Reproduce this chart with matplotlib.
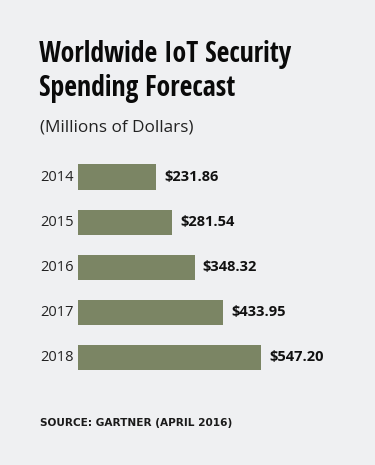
import matplotlib
matplotlib.use("Agg")
import matplotlib.pyplot as plt
from matplotlib import font_manager as fm
from matplotlib.transforms import blended_transform_factory

years = ["2014", "2015", "2016", "2017", "2018"]
spending = [231.86, 281.54, 348.32, 433.95, 547.20]
value_labels = ["$231.86", "$281.54", "$348.32", "$433.95", "$547.20"]
title = "Worldwide IoT Security\nSpending Forecast"
subtitle = "(Millions of Dollars)"
source = "SOURCE: GARTNER (APRIL 2016)"

W, H = 375, 465
BG = "#eff0f2"
BAR = "#7b8564"

names = {f.name for f in fm.fontManager.ttflist}
cond = None
for cand in ["Liberation Sans Narrow", "DejaVu Sans Condensed", "Open Sans Condensed", "Roboto Condensed"]:
    if cand in names:
        cond = cand
        break

fig = plt.figure(figsize=(W / 100, H / 100), dpi=100, facecolor=BG)

def fx(px):
    return px / W

def fy(py):
    return 1 - py / H

# axes: x from 78 px to 340 px, y from 154.5 to 380 px
ax = fig.add_axes([fx(78), fy(380), fx(340 - 78), (380 - 154.5) / H])
ax.set_facecolor(BG)
ypos = list(range(len(years)))
ax.barh(ypos, spending, height=0.56, color=BAR, edgecolor="none")
ax.set_xlim(0, (340 - 78) / 0.3345)
ax.set_ylim(len(years) - 0.5, -0.5)
ax.axis("off")

for i, (v, lab) in enumerate(zip(spending, value_labels)):
    ax.annotate(lab, (v, i), xytext=(6, 0), textcoords="offset points",
                ha="left", va="center", fontsize=10.5, fontweight="bold",
                color="#111111", family=["Open Sans", "DejaVu Sans"])

tr = blended_transform_factory(fig.transFigure, ax.transData)
for i, y in enumerate(years):
    fig.text(fx(40), i, y, transform=tr, ha="left", va="center",
             fontsize=10.5, color="#222222", family=["Open Sans", "DejaVu Sans"])

tfam = [cond, "DejaVu Sans"] if cond else ["DejaVu Sans"]
fig.text(fx(39), fy(40), title, ha="left", va="top", fontsize=20,
         fontweight="bold", color="#0a0a0a", family=tfam, linespacing=1.22)
fig.text(fx(40), fy(120), subtitle, ha="left", va="top", fontsize=12.3,
         color="#222222", family=["Open Sans", "DejaVu Sans"])
fig.text(fx(40), fy(426), source,
         ha="left", va="baseline", fontsize=7.6, fontweight="bold",
         color="#1a1a1a", family=["DejaVu Sans"])

fig.savefig("out.png", dpi=100, facecolor=BG)
